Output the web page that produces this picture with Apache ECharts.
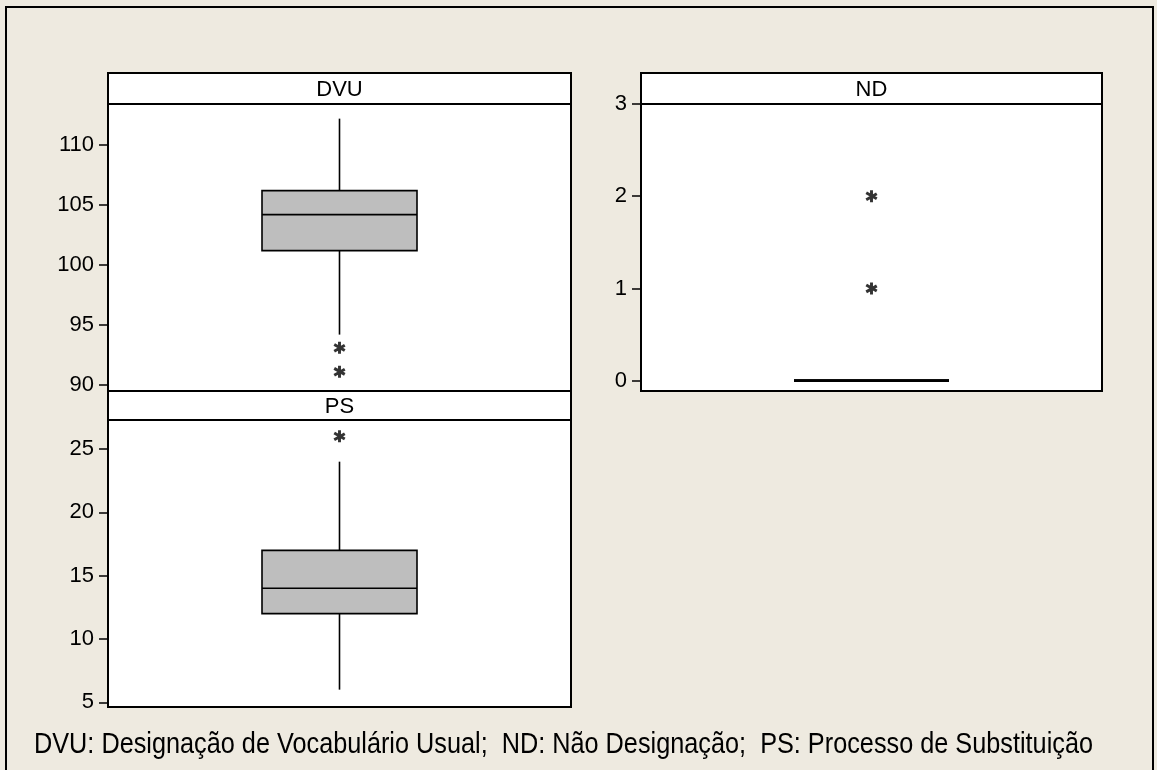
<!DOCTYPE html>
<html><head><meta charset="utf-8">
<script src="https://cdn.jsdelivr.net/npm/echarts@6.0.0/dist/echarts.min.js"></script>
<style>html,body{margin:0;padding:0;background:#EEEAE0}#c{width:1157px;height:770px}</style>
</head><body><div id="c"></div>
<script>
// ---- data ----
const panelNames = ['DVU', 'ND', 'PS'];
const dvuBox = [94.2, 101.2, 104.2, 106.2, 112.2];   // min, Q1, median, Q3, max
const dvuOutliers = [93.1, 91.1];
const ndBox = [0, 0, 0, 0, 0];
const ndOutliers = [2, 1];
const psBox = [6, 12, 14, 17, 24];
const psOutliers = [26];
const dvuTicks = [90, 95, 100, 105, 110];
const ndTicks = [0, 1, 2, 3];
const psTicks = [5, 10, 15, 20, 25];
const footnote = 'DVU: Designação de Vocabulário Usual;  ND: Não Designação;  PS: Processo de Substituição';

// ---- layout ----
const FONT = '"Liberation Sans", Arial, sans-serif';
const panels = [
  { name: panelNames[0], box: dvuBox, out: dvuOutliers, ticks: dvuTicks, min: 89.5, max: 113.42,
    left: 108, width: 463, headTop: 73, headH: 31, lw: 1.6 },
  { name: panelNames[1], box: ndBox, out: ndOutliers, ticks: ndTicks, min: -0.112, max: 3,
    left: 641, width: 461, headTop: 73, headH: 31, lw: 2.6 },
  { name: panelNames[2], box: psBox, out: psOutliers, ticks: psTicks, min: 4.63, max: 27.29,
    left: 108, width: 463, headTop: 391, headH: 29, lw: 1.6 }
];
const PLOT_H = 287;
const BOX_W = 155;
const STAR = 'path://M38 0L62 0L62 100L38 100Z M13 11L99 61L87 82L1 32Z M1 68L87 18L99 39L13 89Z';

function makeRender(lw) {
  return function (params, api) {
    const x = api.value(0);
    const pMin = api.coord([x, api.value(1)]);
    const pQ1 = api.coord([x, api.value(2)]);
    const pMed = api.coord([x, api.value(3)]);
    const pQ3 = api.coord([x, api.value(4)]);
    const pMax = api.coord([x, api.value(5)]);
    const cx = pMed[0], h = BOX_W / 2;
    const ls = { stroke: '#000', lineWidth: lw };
    return { type: 'group', children: [
      { type: 'line', shape: { x1: cx, y1: pMax[1], x2: cx, y2: pQ3[1] }, style: ls },
      { type: 'line', shape: { x1: cx, y1: pQ1[1], x2: cx, y2: pMin[1] }, style: ls },
      { type: 'rect', shape: { x: cx - h, y: pQ3[1], width: BOX_W, height: pQ1[1] - pQ3[1] },
        style: { fill: '#BEBEBE', stroke: '#000', lineWidth: lw } },
      { type: 'line', shape: { x1: cx - h, y1: pMed[1], x2: cx + h, y2: pMed[1] }, style: ls }
    ] };
  };
}

const grid = [], xAxis = [], yAxis = [], series = [], graphic = [];
panels.forEach((p, i) => {
  const top = p.headTop + p.headH;
  grid.push({ left: p.left, top: top, width: p.width, height: PLOT_H, show: true,
    backgroundColor: '#fff', borderColor: '#000', borderWidth: 2 });
  xAxis.push({ type: 'category', gridIndex: i, data: [p.name], show: false });
  yAxis.push({ type: 'value', gridIndex: i, min: p.min, max: p.max,
    splitLine: { show: false },
    axisLine: { show: true, lineStyle: { color: '#000', width: 2 } },
    axisTick: { show: true, length: 9, customValues: p.ticks, lineStyle: { color: '#000', width: 1.5 } },
    axisLabel: { customValues: p.ticks, margin: 14, color: '#000', fontSize: 22, fontFamily: FONT } });
  series.push({ type: 'custom', xAxisIndex: i, yAxisIndex: i, silent: true, clip: false,
    renderItem: makeRender(p.lw),
    encode: { x: 0, y: [1, 2, 3, 4, 5] },
    data: [[p.name].concat(p.box)] });
  series.push({ type: 'scatter', xAxisIndex: i, yAxisIndex: i, silent: true,
    symbol: STAR, symbolSize: [12, 12],
    data: p.out.map(v => [p.name, v]),
    itemStyle: { color: '#000' } });
  graphic.push({ type: 'rect', z: 10, shape: { x: p.left, y: p.headTop, width: p.width, height: p.headH },
    style: { fill: '#fff', stroke: '#000', lineWidth: 2 } });
  graphic.push({ type: 'text', z: 11, x: p.left + p.width / 2, y: p.headTop + p.headH / 2 + 1,
    style: { text: p.name, fill: '#000', font: '22px ' + FONT, textAlign: 'center', textVerticalAlign: 'middle' } });
});

// footnote: condensed to the reference width
const FOOT_FONT = '29px "Liberation Sans", Arial, sans-serif';
const mctx = document.createElement('canvas').getContext('2d');
mctx.font = FOOT_FONT;
const footScale = 1059 / mctx.measureText(footnote).width;

graphic.push({ type: 'rect', z: 12, shape: { x: 6, y: 7, width: 1147, height: 800 },
  style: { fill: 'none', stroke: '#000', lineWidth: 2 } });
graphic.push({ type: 'text', z: 12, x: 34, y: 745, scaleX: footScale,
  style: { text: footnote, fill: '#000', font: FOOT_FONT, textAlign: 'left', textVerticalAlign: 'middle' } });

const chart = echarts.init(document.getElementById('c'), null, { renderer: 'canvas' });
chart.setOption({
  backgroundColor: '#EEEAE0',
  animation: false,
  grid, xAxis, yAxis, series, graphic
});
</script></body></html>
